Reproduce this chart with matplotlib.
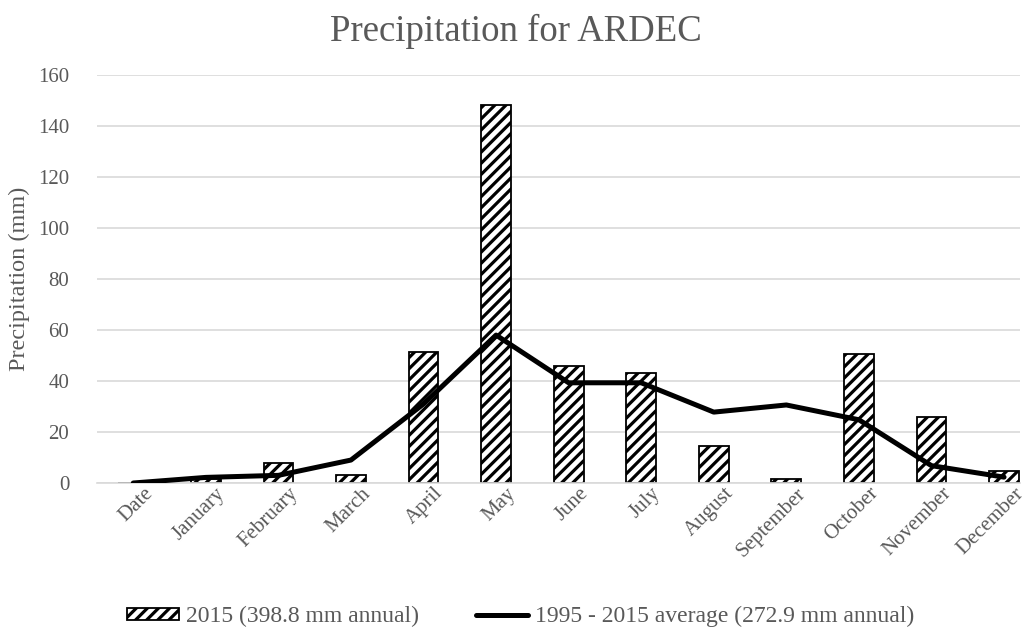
import matplotlib.pyplot as plt
import matplotlib as mpl
from matplotlib.transforms import ScaledTranslation

months = ['Date', 'January', 'February', 'March', 'April', 'May', 'June',
          'July', 'August', 'September', 'October', 'November', 'December']

precip_2015 = [0, 1.5, 7.9, 3.2, 51.5, 148.3, 46.0, 43.0, 14.7, 1.5, 50.5, 25.8, 4.8]
precip_avg = [0, 2.2, 3.0, 9.0, 31.0, 58.0, 39.3, 39.3, 27.8, 30.6, 24.8, 6.8, 2.3]

mpl.rcParams['font.family'] = ['Liberation Serif', 'DejaVu Serif']
mpl.rcParams['hatch.color'] = '#595959'
mpl.rcParams['hatch.linewidth'] = 2.3

fig = plt.figure(figsize=(10.31, 6.42), dpi=100)
ax = fig.add_axes([97 / 1031, 1 - 483 / 642, (1020 - 97) / 1031, (483 - 75) / 642])

x = list(range(len(months)))
bars = ax.bar(x, precip_2015, width=0.41, color='white', edgecolor='black',
              linewidth=1.3, hatch='///', label='2015 (398.8 mm annual)', zorder=2)
line, = ax.plot(x, precip_avg, color='black', linewidth=3.6, solid_capstyle='round',
                label='1995 - 2015 average (272.9 mm annual)', zorder=3)

ax.set_xlim(-0.5, 12.22)
ax.set_ylim(0, 160)
ax.set_yticks(range(0, 161, 20))
ax.set_xticks(x)

ax.grid(axis='y', color='#d9d9d9', linewidth=1.2, zorder=0)
for s in ['top', 'right', 'left']:
    ax.spines[s].set_visible(False)
ax.spines['bottom'].set_color('#d9d9d9')
ax.spines['bottom'].set_linewidth(1.2)
ax.tick_params(axis='both', length=0, labelsize=15, colors='#595959')
ax.tick_params(axis='y', pad=20)
ax.tick_params(axis='x', pad=5)

ax.set_xticklabels(months, rotation=45, ha='right', rotation_mode='anchor')
# nudge the slanted month labels right and up a little
shift = ScaledTranslation(0.10, 0.06, fig.dpi_scale_trans)
for lbl in ax.get_xticklabels():
    lbl.set_transform(lbl.get_transform() + shift)

ax.set_ylabel('Precipitation (mm)', fontsize=17.5, color='#595959', labelpad=6)
fig.suptitle('Precipitation for ARDEC', fontsize=26.5, color='#595959', y=0.978)

fig.legend(handles=[bars, line], loc='lower center', ncol=2, frameon=False,
           fontsize=17, bbox_to_anchor=(0.505, -0.01), handlelength=2.2,
           handleheight=0.4, columnspacing=2.4, handletextpad=0.3,
           labelcolor='#595959')

fig.savefig('out.png', dpi=100)
